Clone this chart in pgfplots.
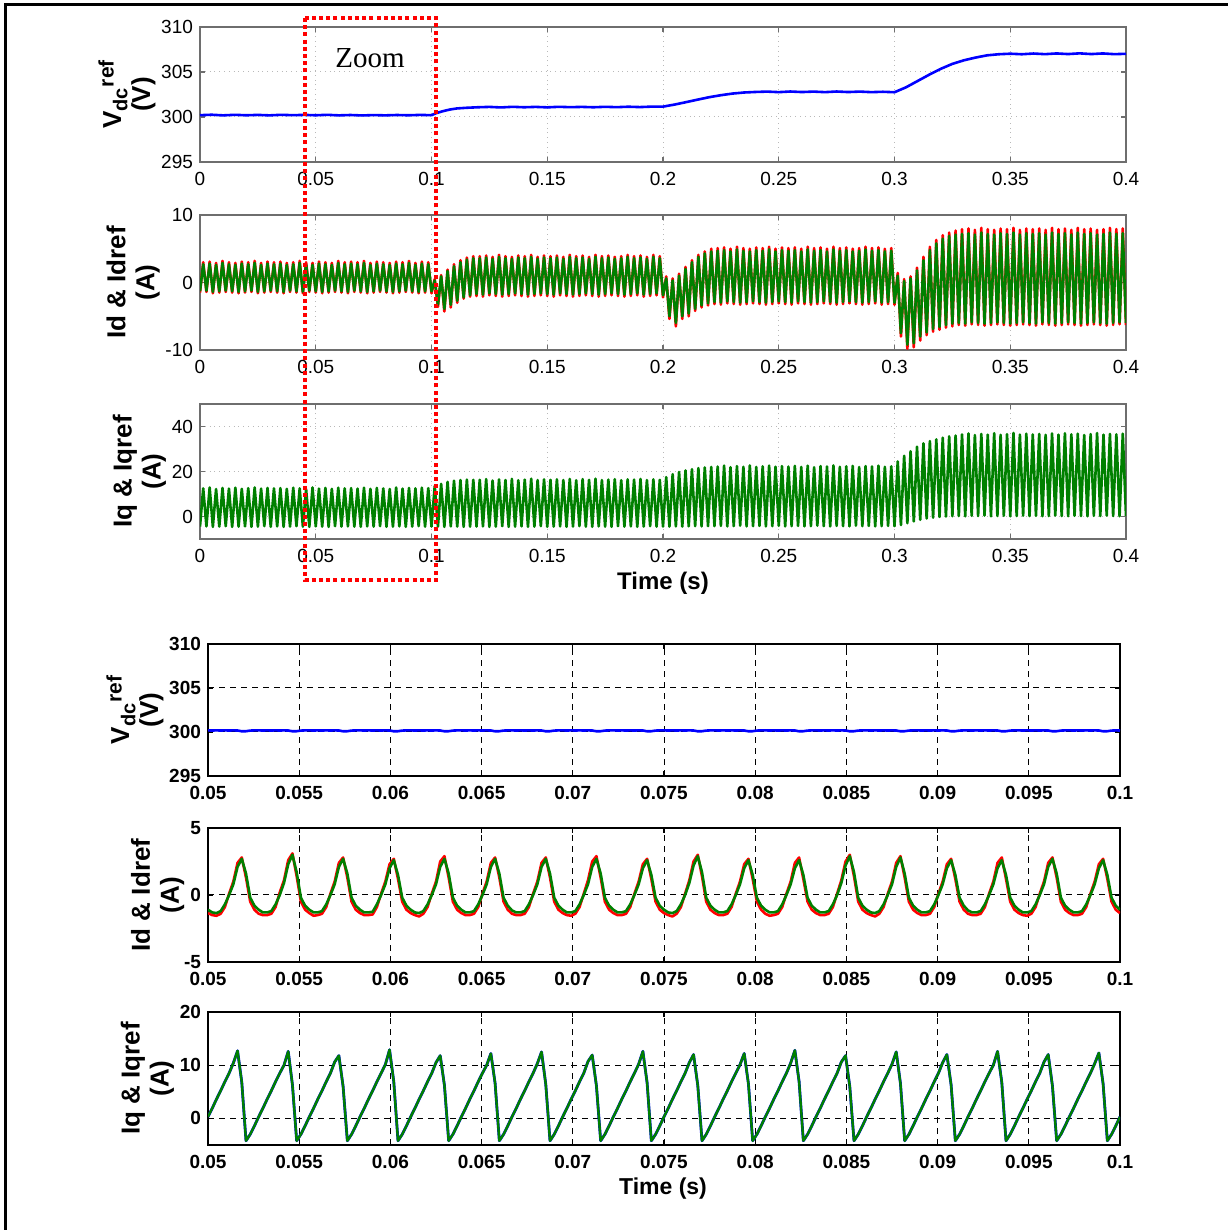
\documentclass[border=0pt]{standalone}
\usepackage{fontspec}
\setmainfont{Liberation Sans}
\newfontfamily\zoomfont{Liberation Serif}
\usepackage{pgfplots}
\pgfplotsset{compat=1.18}
\usepackage{pgfplotstable}

\definecolor{mgreen}{RGB}{0,128,0}
\definecolor{mblue}{RGB}{0,0,255}
\definecolor{mred}{RGB}{255,0,0}
\definecolor{framegray}{RGB}{110,110,110}

% 0 .. 0.4 s, one row every half ripple period (troughs on even rows, peaks on odd rows)
\pgfplotstableread[row sep=\\]{
idr idg iq\\
-1.5 -1.3 -4.5\\ 3.0 2.7 12.5\\ -1.4 -1.2 -4.4\\ 3.1 2.8 12.9\\ -1.6 -1.4 -4.6\\ 2.9 2.6 12.2\\
-1.5 -1.3 -4.5\\ 3.2 2.9 12.7\\ -1.4 -1.2 -4.3\\ 3.0 2.7 12.4\\ -1.5 -1.3 -4.6\\ 2.9 2.6 12.8\\
-1.6 -1.4 -4.5\\ 3.1 2.8 12.3\\ -1.5 -1.3 -4.4\\ 3.0 2.7 12.6\\ -1.4 -1.2 -4.6\\ 3.2 2.9 12.9\\
-1.6 -1.4 -4.5\\ 2.9 2.6 12.4\\ -1.5 -1.3 -4.3\\ 3.1 2.8 12.7\\ -1.4 -1.2 -4.6\\ 3.0 2.7 12.5\\
-1.5 -1.3 -4.4\\ 3.1 2.8 12.6\\ -1.6 -1.4 -4.6\\ 2.9 2.6 12.3\\ -1.4 -1.2 -4.5\\ 3.0 2.7 12.8\\
-1.5 -1.3 -4.3\\ 3.2 2.9 12.5\\ -1.6 -1.4 -4.5\\ 3.0 2.7 12.2\\ -1.4 -1.2 -4.6\\ 2.9 2.6 12.9\\
-1.5 -1.3 -4.4\\ 3.1 2.8 12.4\\ -1.6 -1.4 -4.5\\ 3.0 2.7 12.7\\ -1.5 -1.3 -4.6\\ 2.9 2.6 12.3\\
-1.4 -1.2 -4.3\\ 3.2 2.9 12.8\\ -1.5 -1.3 -4.5\\ 3.0 2.7 12.5\\ -1.6 -1.4 -4.4\\ 3.1 2.8 12.6\\
-1.4 -1.2 -4.5\\ 3.0 2.7 12.4\\ -1.5 -1.3 -4.6\\ 3.2 2.9 12.8\\ -1.6 -1.4 -4.4\\ 2.9 2.6 12.3\\
-1.5 -1.3 -4.5\\ 3.1 2.8 12.7\\ -1.4 -1.2 -4.3\\ 3.0 2.7 12.5\\ -1.5 -1.3 -4.6\\ 2.9 2.6 12.2\\
-1.6 -1.4 -4.5\\ 3.1 2.8 12.9\\ -1.5 -1.3 -4.4\\ 3.0 2.7 12.4\\ -1.4 -1.2 -4.6\\ 3.2 2.9 12.7\\
-1.5 -1.3 -4.5\\ 2.9 2.6 12.5\\ -1.6 -1.4 -4.3\\ 3.1 2.8 12.8\\ -1.5 -1.3 -4.5\\ 3.0 2.7 12.6\\
-1.6 -1.3 -4.5\\ 0.5 0.3 13.5\\ -3.6 -3.3 -4.5\\ 1.1 0.9 14.5\\ -4.3 -3.9 -4.6\\ 1.9 1.7 15.4\\
-3.7 -3.3 -4.4\\ 2.7 2.4 15.9\\ -3.0 -2.7 -4.5\\ 3.3 3.0 16.2\\ -2.4 -2.2 -4.6\\ 3.7 3.4 16.4\\
-2.1 -1.9 -4.5\\ 3.9 3.6 16.3\\
-2.0 -1.7 -4.5\\ 3.9 3.6 16.3\\ -2.1 -1.8 -4.4\\ 4.0 3.7 16.6\\ -1.9 -1.6 -4.6\\ 3.8 3.5 16.0\\
-2.0 -1.7 -4.5\\ 4.1 3.8 16.5\\ -2.1 -1.8 -4.3\\ 3.9 3.6 16.2\\ -2.0 -1.7 -4.6\\ 3.8 3.5 16.7\\
-1.9 -1.6 -4.5\\ 4.0 3.7 16.1\\ -2.0 -1.7 -4.4\\ 3.9 3.6 16.4\\ -2.1 -1.8 -4.6\\ 4.1 3.8 16.8\\
-2.0 -1.7 -4.5\\ 3.8 3.5 16.2\\ -1.9 -1.6 -4.3\\ 4.0 3.7 16.5\\ -2.0 -1.7 -4.6\\ 3.9 3.6 16.3\\
-2.1 -1.8 -4.5\\ 4.0 3.7 16.5\\ -1.9 -1.6 -4.4\\ 3.8 3.5 16.2\\ -2.0 -1.7 -4.6\\ 4.1 3.8 16.7\\
-2.1 -1.8 -4.5\\ 3.9 3.6 16.1\\ -2.0 -1.7 -4.3\\ 4.0 3.7 16.6\\ -1.9 -1.6 -4.5\\ 3.8 3.5 16.3\\
-2.0 -1.7 -4.6\\ 4.1 3.8 16.8\\ -2.1 -1.8 -4.4\\ 3.9 3.6 16.2\\ -2.0 -1.7 -4.5\\ 4.0 3.7 16.4\\
-1.9 -1.6 -4.6\\ 3.8 3.5 16.6\\ -2.0 -1.7 -4.3\\ 3.9 3.6 16.1\\ -2.1 -1.8 -4.5\\ 4.1 3.8 16.5\\
-2.0 -1.7 -4.4\\ 3.9 3.6 16.4\\ -1.9 -1.6 -4.6\\ 4.0 3.7 16.7\\ -2.1 -1.8 -4.5\\ 3.8 3.5 16.2\\
-2.0 -1.7 -4.3\\ 4.1 3.8 16.5\\ -1.9 -1.6 -4.5\\ 3.9 3.6 16.3\\
-2.2 -1.9 -4.5\\ 0.9 0.6 17.5\\ -5.4 -5.0 -4.5\\ 0.6 0.3 18.8\\ -6.5 -6.0 -4.4\\ 1.3 1.0 19.8\\
-5.4 -5.0 -4.5\\ 2.3 2.0 20.5\\ -5.0 -4.6 -4.4\\ 3.3 3.0 21.0\\ -4.2 -3.9 -4.3\\ 4.1 3.8 21.5\\
-3.7 -3.4 -4.4\\ 4.6 4.3 21.8\\ -3.4 -3.1 -4.3\\ 5.0 4.6 22.0\\
-3.2 -2.9 -4.3\\ 5.1 4.7 22.2\\ -3.3 -3.0 -4.2\\ 5.2 4.8 22.6\\ -3.1 -2.8 -4.4\\ 5.0 4.6 21.9\\
-3.2 -2.9 -4.3\\ 5.3 4.9 22.4\\ -3.3 -3.0 -4.1\\ 5.1 4.7 22.1\\ -3.2 -2.9 -4.4\\ 5.0 4.6 22.7\\
-3.1 -2.8 -4.3\\ 5.2 4.8 22.0\\ -3.2 -2.9 -4.2\\ 5.1 4.7 22.3\\ -3.3 -3.0 -4.4\\ 5.3 4.9 22.6\\
-3.2 -2.9 -4.3\\ 5.0 4.6 22.1\\ -3.1 -2.8 -4.1\\ 5.2 4.8 22.4\\ -3.2 -2.9 -4.4\\ 5.1 4.7 22.2\\
-3.3 -3.0 -4.3\\ 5.2 4.8 22.5\\ -3.1 -2.8 -4.2\\ 5.0 4.6 22.0\\ -3.2 -2.9 -4.4\\ 5.3 4.9 22.6\\
-3.3 -3.0 -4.3\\ 5.1 4.7 21.9\\ -3.2 -2.9 -4.1\\ 5.2 4.8 22.4\\ -3.1 -2.8 -4.3\\ 5.0 4.6 22.2\\
-3.2 -2.9 -4.4\\ 5.3 4.9 22.7\\ -3.3 -3.0 -4.2\\ 5.1 4.7 22.1\\ -3.2 -2.9 -4.3\\ 5.2 4.8 22.3\\
-3.1 -2.8 -4.4\\ 5.0 4.6 22.5\\ -3.2 -2.9 -4.1\\ 5.1 4.7 22.0\\ -3.3 -3.0 -4.3\\ 5.3 4.9 22.4\\
-3.2 -2.9 -4.2\\ 5.1 4.7 22.2\\ -3.1 -2.8 -4.4\\ 5.2 4.8 22.6\\ -3.3 -3.0 -4.3\\ 5.0 4.6 22.1\\
-3.2 -2.9 -4.2\\ 5.1 4.7 22.3\\
-3.3 -3.0 -4.3\\ 1.4 1.0 24.5\\ -8.0 -7.5 -3.8\\ 0.5 0.2 27.0\\ -9.8 -9.2 -3.0\\ 0.9 0.6 29.0\\
-9.6 -9.0 -2.2\\ 2.2 1.8 31.0\\ -8.6 -8.0 -1.5\\ 3.8 3.3 32.5\\ -7.8 -7.4 -0.9\\ 5.3 4.8 33.5\\
-7.3 -6.9 -0.5\\ 6.3 5.8 34.3\\ -7.0 -6.6 -0.2\\ 7.0 6.5 35.0\\ -6.7 -6.3 0.0\\ 7.4 6.9 35.6\\
-6.5 -6.1 0.1\\ 7.7 7.1 36.0\\
-6.3 -6.0 0.2\\ 7.9 7.2 36.5\\ -6.4 -6.1 0.1\\ 8.0 7.3 36.9\\ -6.2 -5.9 0.3\\ 7.8 7.1 36.2\\
-6.3 -6.0 0.2\\ 8.1 7.4 36.7\\ -6.4 -6.1 0.4\\ 7.9 7.2 36.4\\ -6.3 -6.0 0.1\\ 7.8 7.1 37.0\\
-6.2 -5.9 0.2\\ 8.0 7.3 36.3\\ -6.3 -6.0 0.3\\ 7.9 7.2 36.6\\ -6.4 -6.1 0.1\\ 8.1 7.4 37.1\\
-6.3 -6.0 0.2\\ 7.8 7.1 36.4\\ -6.2 -5.9 0.4\\ 8.0 7.3 36.8\\ -6.3 -6.0 0.2\\ 7.9 7.2 36.5\\
-6.4 -6.1 0.3\\ 8.0 7.3 36.7\\ -6.2 -5.9 0.1\\ 7.8 7.1 36.3\\ -6.3 -6.0 0.2\\ 8.1 7.4 36.9\\
-6.4 -6.1 0.4\\ 7.9 7.2 36.4\\ -6.3 -6.0 0.2\\ 8.0 7.3 37.0\\ -6.2 -5.9 0.1\\ 7.8 7.1 36.5\\
-6.3 -6.0 0.3\\ 8.1 7.4 36.8\\ -6.4 -6.1 0.2\\ 7.9 7.2 36.2\\ -6.3 -6.0 0.1\\ 8.0 7.3 36.6\\
-6.2 -5.9 0.3\\ 7.8 7.1 37.1\\ -6.3 -6.0 0.2\\ 7.9 7.2 36.4\\ -6.4 -6.1 0.4\\ 8.1 7.4 36.7\\
-6.3 -6.0 0.2\\ 7.9 7.2 36.5\\ -6.2 -5.9 0.1\\ 8.0 7.3 36.8\\
-6.3 -6.0 0.2\\
}\fulldata

% 0.05 .. 0.1 s, twelve rows per ripple period
\pgfplotstableread[row sep=\\]{
idr idg iq vdc\\
-1.35 -1.1 0.3 300.18\\ -1.5 -1.3 1.9 300.17\\ -1.55 -1.35 3.6 300.18\\ -1.4 -1.2 5.2 300.17\\ -0.9 -0.7 6.9 300.18\\ 0.1 0.0 8.5 300.17\\
1.0 0.8 10.4 300.18\\ 2.4 2.1 12.7 300.17\\ 2.8 2.7 6.8 300.08\\ 1.3 1.6 -4.2 300.09\\ -0.5 -0.2 -3.0 300.16\\ -1.1 -0.8 -1.4 300.18\\
-1.4 -1.1 0.3 300.18\\ -1.5 -1.3 1.9 300.17\\ -1.5 -1.3 3.6 300.18\\ -1.4 -1.2 5.2 300.17\\ -0.9 -0.7 6.9 300.18\\ 0.2 0.0 8.5 300.17\\
1.1 0.9 10.0 300.18\\ 2.6 2.3 12.6 300.17\\ 3.1 3.0 6.3 300.08\\ 1.4 1.7 -4.2 300.09\\ -0.5 -0.2 -3.0 300.16\\ -1.1 -0.8 -1.4 300.18\\
-1.35 -1.1 0.3 300.18\\ -1.55 -1.3 1.9 300.17\\ -1.5 -1.3 3.6 300.18\\ -1.4 -1.2 5.2 300.17\\ -0.9 -0.7 6.9 300.18\\ 0.1 0.0 8.5 300.17\\
1.0 0.8 10.6 300.18\\ 2.4 2.1 11.8 300.17\\ 2.8 2.7 6.0 300.08\\ 1.3 1.6 -4.2 300.09\\ -0.5 -0.2 -3.0 300.16\\ -1.1 -0.8 -1.4 300.18\\
-1.35 -1.1 0.3 300.18\\ -1.5 -1.3 1.9 300.17\\ -1.5 -1.3 3.6 300.18\\ -1.45 -1.25 5.2 300.17\\ -0.9 -0.7 6.9 300.18\\ 0.1 0.0 8.5 300.17\\
1.0 0.8 10.1 300.18\\ 2.3 2.0 12.9 300.17\\ 2.7 2.6 6.9 300.08\\ 1.2 1.5 -4.2 300.09\\ -0.5 -0.2 -3.0 300.16\\ -1.1 -0.8 -1.4 300.18\\
-1.35 -1.1 0.3 300.18\\ -1.5 -1.3 1.9 300.17\\ -1.6 -1.35 3.6 300.18\\ -1.4 -1.2 5.2 300.17\\ -0.9 -0.7 6.9 300.18\\ 0.1 0.0 8.5 300.17\\
1.0 0.8 10.5 300.18\\ 2.5 2.1 11.8 300.17\\ 2.9 2.7 6.2 300.08\\ 1.3 1.6 -4.2 300.09\\ -0.5 -0.2 -3.0 300.16\\ -1.1 -0.8 -1.4 300.18\\
-1.35 -1.1 0.3 300.18\\ -1.5 -1.3 1.9 300.17\\ -1.5 -1.3 3.6 300.18\\ -1.4 -1.2 5.2 300.17\\ -0.9 -0.7 6.9 300.18\\ 0.1 0.0 8.5 300.17\\
1.0 0.8 10.0 300.18\\ 2.4 2.1 12.2 300.17\\ 2.8 2.7 6.6 300.08\\ 1.3 1.6 -4.2 300.09\\ -0.5 -0.2 -3.0 300.16\\ -1.1 -0.8 -1.4 300.18\\
-1.4 -1.15 0.3 300.18\\ -1.5 -1.3 1.9 300.17\\ -1.5 -1.3 3.6 300.18\\ -1.4 -1.2 5.2 300.17\\ -0.9 -0.7 6.9 300.18\\ 0.1 0.0 8.5 300.17\\
1.0 0.8 10.3 300.18\\ 2.4 2.1 12.5 300.17\\ 2.8 2.7 6.4 300.08\\ 1.3 1.6 -4.2 300.09\\ -0.5 -0.2 -3.0 300.16\\ -1.1 -0.8 -1.4 300.18\\
-1.35 -1.1 0.3 300.18\\ -1.5 -1.3 1.9 300.17\\ -1.55 -1.3 3.6 300.18\\ -1.4 -1.2 5.2 300.17\\ -0.9 -0.7 6.9 300.18\\ 0.1 0.0 8.5 300.17\\
1.1 0.8 10.7 300.18\\ 2.5 2.1 11.9 300.17\\ 2.9 2.7 6.1 300.08\\ 1.3 1.6 -4.2 300.09\\ -0.5 -0.2 -3.0 300.16\\ -1.1 -0.8 -1.4 300.18\\
-1.35 -1.1 0.3 300.18\\ -1.5 -1.3 1.9 300.17\\ -1.5 -1.3 3.6 300.18\\ -1.4 -1.2 5.2 300.17\\ -0.9 -0.7 6.9 300.18\\ 0.1 0.0 8.5 300.17\\
1.0 0.8 10.2 300.18\\ 2.3 2.0 12.6 300.17\\ 2.7 2.6 6.7 300.08\\ 1.2 1.5 -4.2 300.09\\ -0.5 -0.2 -3.0 300.16\\ -1.1 -0.8 -1.4 300.18\\
-1.35 -1.1 0.3 300.18\\ -1.5 -1.3 1.9 300.17\\ -1.6 -1.35 3.6 300.18\\ -1.4 -1.2 5.2 300.17\\ -0.9 -0.7 6.9 300.18\\ 0.1 0.0 8.5 300.17\\
1.1 0.9 10.5 300.18\\ 2.5 2.2 12.0 300.17\\ 3.0 2.9 6.2 300.08\\ 1.4 1.7 -4.2 300.09\\ -0.5 -0.2 -3.0 300.16\\ -1.1 -0.8 -1.4 300.18\\
-1.35 -1.1 0.3 300.18\\ -1.5 -1.3 1.9 300.17\\ -1.5 -1.3 3.6 300.18\\ -1.4 -1.2 5.2 300.17\\ -0.9 -0.7 6.9 300.18\\ 0.1 0.0 8.5 300.17\\
1.0 0.8 10.1 300.18\\ 2.3 2.0 12.2 300.17\\ 2.7 2.6 6.5 300.08\\ 1.2 1.5 -4.2 300.09\\ -0.5 -0.2 -3.0 300.16\\ -1.1 -0.8 -1.4 300.18\\
-1.4 -1.1 0.3 300.18\\ -1.55 -1.3 1.9 300.17\\ -1.5 -1.3 3.6 300.18\\ -1.4 -1.2 5.2 300.17\\ -0.9 -0.7 6.9 300.18\\ 0.1 0.0 8.5 300.17\\
1.0 0.8 10.4 300.18\\ 2.4 2.0 12.8 300.17\\ 2.8 2.6 6.9 300.08\\ 1.2 1.5 -4.2 300.09\\ -0.5 -0.2 -3.0 300.16\\ -1.1 -0.8 -1.4 300.18\\
-1.35 -1.1 0.3 300.18\\ -1.5 -1.3 1.9 300.17\\ -1.5 -1.3 3.6 300.18\\ -1.4 -1.2 5.2 300.17\\ -0.9 -0.7 6.9 300.18\\ 0.1 0.0 8.5 300.17\\
1.1 0.9 10.6 300.18\\ 2.5 2.2 11.8 300.17\\ 3.0 2.9 6.0 300.08\\ 1.4 1.7 -4.2 300.09\\ -0.5 -0.2 -3.0 300.16\\ -1.1 -0.8 -1.4 300.18\\
-1.35 -1.1 0.3 300.18\\ -1.5 -1.3 1.9 300.17\\ -1.6 -1.35 3.6 300.18\\ -1.4 -1.2 5.2 300.17\\ -0.9 -0.7 6.9 300.18\\ 0.1 0.0 8.5 300.17\\
1.0 0.8 10.2 300.18\\ 2.4 2.1 12.5 300.17\\ 2.9 2.8 6.6 300.08\\ 1.3 1.6 -4.2 300.09\\ -0.5 -0.2 -3.0 300.16\\ -1.1 -0.8 -1.4 300.18\\
-1.35 -1.1 0.3 300.18\\ -1.5 -1.3 1.9 300.17\\ -1.5 -1.3 3.6 300.18\\ -1.4 -1.2 5.2 300.17\\ -0.9 -0.7 6.9 300.18\\ 0.1 0.0 8.5 300.17\\
1.0 0.8 10.5 300.18\\ 2.3 2.0 12.0 300.17\\ 2.7 2.6 6.3 300.08\\ 1.2 1.5 -4.2 300.09\\ -0.5 -0.2 -3.0 300.16\\ -1.1 -0.8 -1.4 300.18\\
-1.4 -1.15 0.3 300.18\\ -1.5 -1.3 1.9 300.17\\ -1.5 -1.3 3.6 300.18\\ -1.4 -1.2 5.2 300.17\\ -0.9 -0.7 6.9 300.18\\ 0.1 0.0 8.5 300.17\\
1.0 0.8 10.0 300.18\\ 2.4 2.0 12.6 300.17\\ 2.8 2.6 6.8 300.08\\ 1.2 1.5 -4.2 300.09\\ -0.5 -0.2 -3.0 300.16\\ -1.1 -0.8 -1.4 300.18\\
-1.35 -1.1 0.3 300.18\\ -1.5 -1.3 1.9 300.17\\ -1.55 -1.3 3.6 300.18\\ -1.4 -1.2 5.2 300.17\\ -0.9 -0.7 6.9 300.18\\ 0.1 0.0 8.5 300.17\\
1.0 0.8 10.6 300.18\\ 2.4 2.1 12.0 300.17\\ 2.8 2.7 6.1 300.08\\ 1.3 1.6 -4.2 300.09\\ -0.5 -0.2 -3.0 300.16\\ -1.1 -0.8 -1.4 300.18\\
-1.35 -1.1 0.3 300.18\\ -1.5 -1.3 1.9 300.17\\ -1.5 -1.3 3.6 300.18\\ -1.4 -1.2 5.2 300.17\\ -0.9 -0.7 6.9 300.18\\ 0.1 0.0 8.5 300.17\\
1.0 0.8 10.3 300.18\\ 2.3 2.0 12.3 300.17\\ 2.7 2.6 6.5 300.08\\ 1.2 1.5 -4.2 300.09\\ -0.5 -0.2 -3.0 300.16\\ -1.1 -0.8 -1.4 300.18\\
-1.35 -1.1 0.3 300.17\\
}\zoomdata

\newcommand{\vdclabel}{V\textsubscript{\fontsize{10}{10}\selectfont dc}\raisebox{0.55ex}{\fontsize{10.5}{10}\selectfont ref}\\(V)}

\pgfplotsset{
  panel/.style={
    scale only axis, tick align=inside, major tick length=2.5pt,
    grid=major, clip mode=individual,
    every axis plot/.append style={line join=round},
    ylabel style={align=center, font=\bfseries\fontsize{13}{14.5}\selectfont},
  },
  toppanel/.style={
    panel, width=463pt, height=67.5pt, xmin=0, xmax=0.4,
    xtick={0,0.05,0.1,0.15,0.2,0.25,0.3,0.35,0.4},
    xticklabels={0,0.05,0.1,0.15,0.2,0.25,0.3,0.35,0.4},
    major grid style={gray!55, dotted, line width=0.5pt},
    axis line style={framegray, line width=0.7pt},
    tick style={framegray, line width=0.7pt},
    ticklabel style={font=\fontsize{9.5}{10}\selectfont},
    xticklabel style={yshift=-1.5pt},
    ylabel shift=-4pt,
  },
  botpanel/.style={
    panel, width=456pt, xmin=0.05, xmax=0.1,
    xtick={0.05,0.055,0.06,0.065,0.07,0.075,0.08,0.085,0.09,0.095,0.1},
    xticklabels={0.05,0.055,0.06,0.065,0.07,0.075,0.08,0.085,0.09,0.095,0.1},
    major grid style={black, dash pattern=on 3pt off 2.5pt, line width=0.5pt},
    axis line style={black, line width=0.7pt},
    tick style={black, line width=0.6pt},
    ticklabel style={font=\bfseries\fontsize{9.5}{10}\selectfont},
    xticklabel style={yshift=-1.5pt},
    ylabel shift=-7pt,
  },
}

\begin{document}
\begin{tikzpicture}
\useasboundingbox (0,0) rectangle (614pt,615pt);
\draw[line width=1.5pt] (2.5pt,0) -- (2.5pt,612.5pt) -- (614pt,612.5pt);

% ---- full run 0 .. 0.4 s ----
\begin{axis}[toppanel, at={(100pt,601.5pt)}, anchor=north west,
    ymin=295, ymax=310, ytick={295,300,305,310}, yticklabels={295,300,305,310},
    ylabel={\vdclabel}]
\addplot[mblue, line width=1.3pt] coordinates {
(0,300.2) (0.005,300.25) (0.01,300.18) (0.015,300.24) (0.02,300.19) (0.025,300.23) (0.03,300.18)
(0.035,300.24) (0.04,300.2) (0.045,300.23) (0.05,300.19) (0.055,300.24) (0.06,300.18) (0.065,300.22)
(0.07,300.17) (0.075,300.21) (0.08,300.18) (0.085,300.22) (0.09,300.19) (0.095,300.23) (0.1,300.2)
(0.102,300.42) (0.105,300.65) (0.108,300.83) (0.111,300.95) (0.115,301.02) (0.12,301.08) (0.125,301.12)
(0.13,301.06) (0.135,301.13) (0.14,301.08) (0.145,301.12) (0.15,301.07) (0.155,301.13) (0.16,301.09)
(0.165,301.12) (0.17,301.08) (0.175,301.13) (0.18,301.09) (0.185,301.14) (0.19,301.1) (0.195,301.15)
(0.2,301.15) (0.205,301.38) (0.21,301.65) (0.215,301.93) (0.22,302.2) (0.225,302.42) (0.23,302.6)
(0.235,302.72) (0.24,302.78) (0.245,302.82) (0.25,302.76) (0.255,302.83) (0.26,302.77) (0.265,302.82)
(0.27,302.76) (0.275,302.83) (0.28,302.77) (0.285,302.82) (0.29,302.76) (0.295,302.8) (0.3,302.75)
(0.305,303.3) (0.31,304.0) (0.315,304.7) (0.32,305.35) (0.325,305.9) (0.33,306.3) (0.335,306.6)
(0.34,306.85) (0.345,306.97) (0.35,307.03) (0.355,306.97) (0.36,307.05) (0.365,306.98) (0.37,307.06)
(0.375,306.99) (0.38,307.07) (0.385,306.99) (0.39,307.06) (0.395,306.98) (0.4,307.02)
};
\end{axis}

\begin{axis}[toppanel, at={(100pt,507.5pt)}, anchor=north west,
    ymin=-10, ymax=10, ytick={-10,0,10}, yticklabels={-10,0,10},
    ylabel={Id \& Idref\\(A)}]
\addplot[mred, line width=1.3pt] table[x expr=\coordindex*0.00138889, y=idr] {\fulldata};
\addplot[mgreen, line width=1.3pt] table[x expr=\coordindex*0.00138889, y=idg] {\fulldata};
\end{axis}

\begin{axis}[toppanel, at={(100pt,413pt)}, anchor=north west,
    ymin=-10, ymax=50, ytick={0,20,40}, yticklabels={0,20,40},
    ylabel={Iq \& Iqref\\(A)}]
\addplot[mgreen, line width=1.3pt] table[x expr=\coordindex*0.00138889, y=iq] {\fulldata};
\end{axis}

\node[font=\bfseries\fontsize{12}{14}\selectfont] at (331.5pt,323.5pt) {Time (s)};

% ---- zoom 0.05 .. 0.1 s ----
\begin{axis}[botpanel, at={(104pt,293pt)}, anchor=north west, height=66pt,
    ymin=295, ymax=310, ytick={295,300,305,310}, yticklabels={295,300,305,310},
    ylabel={\vdclabel}, ylabel shift=-4pt]
\addplot[mblue, line width=1.3pt] table[x expr=0.05+\coordindex*0.000231481, y=vdc] {\zoomdata};
\end{axis}

\begin{axis}[botpanel, at={(104pt,201pt)}, anchor=north west, height=67pt,
    ymin=-5, ymax=5, ytick={-5,0,5}, yticklabels={-5,0,5},
    ylabel={Id \& Idref\\(A)}]
\addplot[mred, line width=1.3pt] table[x expr=0.05+\coordindex*0.000231481, y=idr] {\zoomdata};
\addplot[mgreen, line width=1.3pt] table[x expr=0.05+\coordindex*0.000231481, y=idg] {\zoomdata};
\end{axis}

\begin{axis}[botpanel, at={(104pt,109pt)}, anchor=north west, height=66.5pt,
    ymin=-5, ymax=20, ytick={0,10,20}, yticklabels={0,10,20},
    ylabel={Iq \& Iqref\\(A)}, ylabel shift=-4pt]
\addplot[mblue, line width=1.4pt] table[x expr=0.05+\coordindex*0.000231481, y=iq] {\zoomdata};
\addplot[mgreen, line width=1.2pt] table[x expr=0.05+\coordindex*0.000231481, y=iq] {\zoomdata};
\end{axis}

\node[font=\bfseries\fontsize{11.5}{13}\selectfont] at (331.5pt,20.5pt) {Time (s)};

% zoom window marker
\draw[mred, line width=2pt, dash pattern=on 2pt off 1.6pt] (152.5pt,606pt) rectangle (218pt,325pt);
\node[font=\zoomfont\fontsize{14.5}{16}\selectfont] at (185pt,586pt) {Zoom};
\end{tikzpicture}
\end{document}
